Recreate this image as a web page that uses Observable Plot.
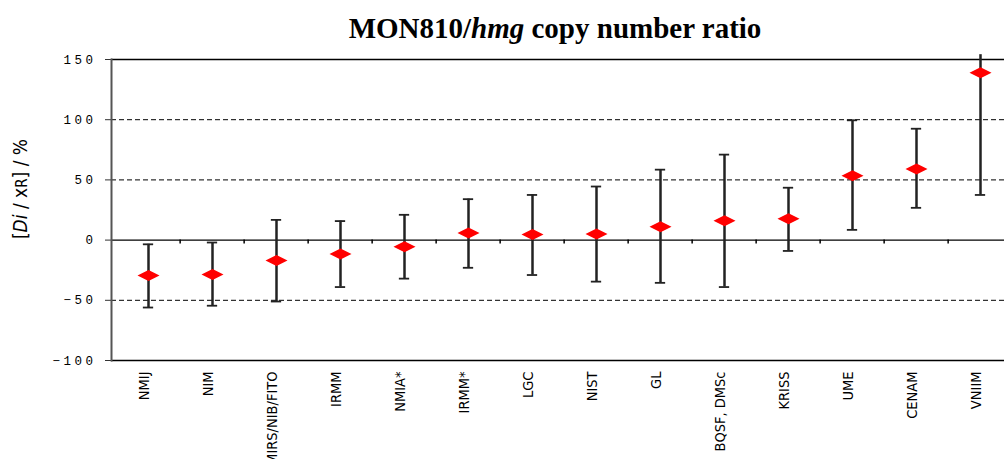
<!DOCTYPE html>
<html><head><meta charset="utf-8">
<script src="https://cdn.jsdelivr.net/npm/d3@7"></script>
<script src="https://cdn.jsdelivr.net/npm/@observablehq/plot@0.6"></script>
<style>
body{margin:0;overflow:hidden;background:#fff;width:1004px;height:459px}
#title{font-family:"Liberation Serif","Times New Roman",serif;font-weight:bold;font-size:29px;line-height:28px;height:34px;padding-top:14px;width:1110px;text-align:center;white-space:nowrap;color:#000}
#chart svg{display:block;max-width:none !important}
</style></head><body>
<div id="title">MON810/<i>hmg</i> copy number ratio</div>
<div id="chart"></div>
<script>
const labs = ["NMIJ","NIM","MIRS/NIB/FITO","IRMM","NMIA*","IRMM*","LGC","NIST","GL","BQSF, DMSc","KRISS","UME","CENAM","VNIIM"];
const values = [-29.5, -28.5, -17, -11.5, -5.5, 6, 4.6, 5.1, 11, 16, 17.8, 53.5, 59, 139];
const upper  = [-3.5, -2, 16.8, 15.8, 21, 34, 37.5, 44.5, 58.5, 71, 43.5, 99.5, 92.5, 154];
const lower  = [-56, -54.5, -51, -39, -32, -23, -29, -34.5, -35.5, -39, -9, 8.5, 26.8, 37.5];
const yTicks = [-100, -50, 0, 50, 100, 150];
const dashedLines = [100, 50, -50];
const solidLines = [150, 0, -100];

const rows = labs.map((c, i) => ({lab: c, v: values[i], lo: lower[i], hi: upper[i]}));
const diamond = {draw(ctx) { ctx.moveTo(-11, 0); ctx.lineTo(0, -5.5); ctx.lineTo(11, 0); ctx.lineTo(0, 5.5); ctx.closePath(); }};
const W = 1018, ML = 111, MR = 1;
const step = (W - ML - MR) / labs.length;

const chart = Plot.plot({
  width: W, height: 411, marginLeft: ML, marginRight: MR, marginTop: 11, marginBottom: 99,
  x: {type: "band", domain: labs, padding: 0, axis: null},
  y: {domain: [-100, 150], axis: null},
  style: {background: "white", overflow: "visible", maxWidth: "none"},
  marks: [
    Plot.ruleY(dashedLines, {stroke: "#000", strokeDasharray: "5,3", strokeWidth: 1}),
    Plot.ruleY(solidLines, {stroke: "#000", strokeWidth: 1.3}),
    Plot.ruleX(labs.slice(1), {x: d => d, y1: 0, y2: -3.3, dx: -step / 2, stroke: "#000", strokeWidth: 1.5}),
    Plot.ruleX(rows, {x: "lab", y1: "lo", y2: "hi", stroke: "#222", strokeWidth: 2.5}),
    Plot.tickY(rows, {x: "lab", y: "lo", insetLeft: step / 2 - 5.5, insetRight: step / 2 - 5.5, stroke: "#222", strokeWidth: 1.8}),
    Plot.tickY(rows.filter(d => d.hi <= 150), {x: "lab", y: "hi", insetLeft: step / 2 - 5.5, insetRight: step / 2 - 5.5, stroke: "#222", strokeWidth: 1.8}),
    Plot.dot(rows, {x: "lab", y: "v", symbol: diamond, fill: "#ff0000", stroke: "none", r: 6}),
    Plot.axisY({ticks: yTicks, tickSize: 6, tickPadding: 9, label: null, fontFamily: "Liberation Mono", fontSize: 12.5, stroke: "#333"}),
    Plot.frame({anchor: "left", stroke: "#555", strokeWidth: 2}),
    Plot.text(labs, {x: d => d, frameAnchor: "bottom", dy: 11, rotate: -90, textAnchor: "end", fontFamily: "DejaVu Sans Condensed", fontSize: 14.5, fill: "#000"})
  ]
});
document.getElementById("chart").appendChild(chart);
const svg = d3.select(chart);
svg.selectAll('g[aria-label="y-axis tick label"] text').style("letter-spacing", "3.5px");
const lab = svg.append("text")
  .attr("transform", "translate(27,141) rotate(-90)")
  .attr("text-anchor", "middle")
  .attr("font-family", "DejaVu Sans Condensed")
  .attr("font-size", 19)
  .attr("fill", "#000");
lab.append("tspan").text("[");
lab.append("tspan").attr("font-style", "italic").text("Di");
lab.append("tspan").text(" / x");
lab.append("tspan").attr("font-size", 15).text("R");
lab.append("tspan").text("] / %");
</script></body></html>
